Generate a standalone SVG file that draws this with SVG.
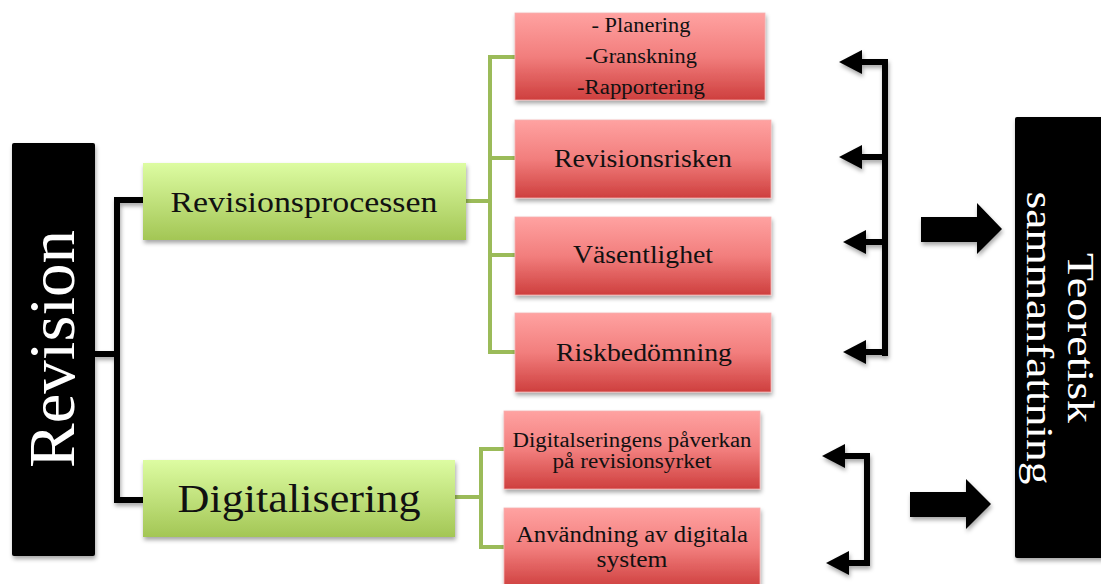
<svg xmlns="http://www.w3.org/2000/svg" width="1101" height="584" viewBox="0 0 1101 584">
<defs>
<linearGradient id="gGreen" x1="0" y1="0" x2="0" y2="1">
<stop offset="0" stop-color="#ddfca2"/>
<stop offset="1" stop-color="#a3c655"/>
</linearGradient>
<linearGradient id="gRed" x1="0" y1="0" x2="0" y2="1">
<stop offset="0" stop-color="#ffa2a1"/>
<stop offset="0.5" stop-color="#f27e7d"/>
<stop offset="1" stop-color="#ce3f3e"/>
</linearGradient>
<filter id="sh" x="-10%" y="-10%" width="120%" height="130%">
<feDropShadow dx="1" dy="3" stdDeviation="2" flood-color="#000" flood-opacity="0.35"/>
</filter>
<filter id="shl" filterUnits="userSpaceOnUse" x="0" y="0" width="1101" height="584">
<feDropShadow dx="1" dy="3" stdDeviation="2" flood-color="#000" flood-opacity="0.35"/>
</filter>
<marker id="ah" markerUnits="userSpaceOnUse" markerWidth="24" markerHeight="24" refX="0" refY="12" orient="auto">
<path d="M23,12 L0,0 L0,24 Z" fill="#000"/>
</marker>
<style>
.serif{font-family:"Liberation Serif","DejaVu Serif",serif;}
.dark{fill:#000;}
.w{fill:#fff;}
.k{fill:#111;}
.green{fill:url(#gGreen);filter:url(#sh);}
.red{fill:url(#gRed);stroke:#f5b0b0;stroke-width:0.8;filter:url(#sh);}
.blk{fill:none;stroke:#000;stroke-width:6;}
.grn{fill:none;stroke:#9bbb59;stroke-width:4;}
.blkarrow{fill:#000;}
</style>
</defs>

<g id="connectors">
<g filter="url(#shl)">
<path class="blk" d="M95,354 H117 M117,200 V500 M114,200 H143 M114,500 H143"/>
</g>
<path class="grn" d="M466,201 H490 M490,55 V354 M488,57 H515 M490,158 H515 M490,255 H515 M488,352 H515"/>
<path class="grn" d="M455,497 H481 M481,447 V549 M479,449 H504 M479,547 H504"/>
<g id="bracket-upper" filter="url(#shl)">
<path class="blk" d="M885,59 V356"/>
<path class="blk" d="M888,62 H862" marker-end="url(#ah)"/>
<path class="blk" d="M885,157 H862" marker-end="url(#ah)"/>
<path class="blk" d="M885,242 H866" marker-end="url(#ah)"/>
<path class="blk" d="M888,352 H866" marker-end="url(#ah)"/>
</g>
<g id="bracket-lower" filter="url(#shl)">
<path class="blk" d="M867,453 V566"/>
<path class="blk" d="M870,456 H845" marker-end="url(#ah)"/>
<path class="blk" d="M870,563 H849" marker-end="url(#ah)"/>
</g>
<g filter="url(#shl)">
<path id="bigarrow-upper" class="blkarrow" d="M921,217 H977 V203 L1002,229 L977,254 V242 H921 Z"/>
<path id="bigarrow-lower" class="blkarrow" d="M910,492 H966 V479 L991,504 L966,529 V517 H910 Z"/>
</g>
</g>

<g id="node-revision">
<rect x="12" y="143" width="83" height="413" rx="2" class="dark" filter="url(#sh)"/>
<text class="serif w" transform="translate(74,349) rotate(-90)" text-anchor="middle" font-size="66" textLength="238" lengthAdjust="spacingAndGlyphs">Revision</text>
</g>

<g id="node-revisionsprocessen">
<rect x="143" y="163" width="323" height="77" class="green"/>
<text class="serif k" x="304" y="212" text-anchor="middle" font-size="30" textLength="267" lengthAdjust="spacingAndGlyphs">Revisionsprocessen</text>
</g>

<g id="node-digitalisering">
<rect x="143" y="460" width="312" height="77" class="green"/>
<text class="serif k" x="299" y="512" text-anchor="middle" font-size="39" textLength="243" lengthAdjust="spacingAndGlyphs">Digitalisering</text>
</g>

<g id="node-planering">
<rect x="515" y="13" width="250" height="87" class="red"/>
<text class="serif k" x="641" y="32" text-anchor="middle" font-size="20" textLength="99" lengthAdjust="spacingAndGlyphs">- Planering</text>
<text class="serif k" x="641" y="63" text-anchor="middle" font-size="20" textLength="112" lengthAdjust="spacingAndGlyphs">-Granskning</text>
<text class="serif k" x="641" y="94" text-anchor="middle" font-size="20" textLength="128" lengthAdjust="spacingAndGlyphs">-Rapportering</text>
</g>

<g id="node-revisionsrisken">
<rect x="515" y="120" width="256" height="78" class="red"/>
<text class="serif k" x="643" y="167" text-anchor="middle" font-size="26" textLength="178" lengthAdjust="spacingAndGlyphs">Revisionsrisken</text>
</g>

<g id="node-vasentlighet">
<rect x="515" y="217" width="256" height="78" class="red"/>
<text class="serif k" x="643" y="263" text-anchor="middle" font-size="26" textLength="140" lengthAdjust="spacingAndGlyphs">Väsentlighet</text>
</g>

<g id="node-riskbedomning">
<rect x="515" y="313" width="256" height="79" class="red"/>
<text class="serif k" x="644" y="361" text-anchor="middle" font-size="26" textLength="176" lengthAdjust="spacingAndGlyphs">Riskbedömning</text>
</g>

<g id="node-digitalseringens">
<rect x="504" y="411" width="256" height="78" class="red"/>
<text class="serif k" x="632" y="447" text-anchor="middle" font-size="20" textLength="239" lengthAdjust="spacingAndGlyphs">Digitalseringens påverkan</text>
<text class="serif k" x="632" y="468" text-anchor="middle" font-size="20" textLength="159" lengthAdjust="spacingAndGlyphs">på revisionsyrket</text>
</g>

<g id="node-anvandning">
<rect x="504" y="508" width="256" height="80" class="red"/>
<text class="serif k" x="632" y="542" text-anchor="middle" font-size="23" textLength="232" lengthAdjust="spacingAndGlyphs">Användning av digitala</text>
<text class="serif k" x="632" y="567" text-anchor="middle" font-size="23" textLength="71" lengthAdjust="spacingAndGlyphs">system</text>
</g>

<g id="node-teoretisk">
<rect x="1015" y="117" width="90" height="441" rx="2" class="dark" filter="url(#sh)"/>
<text class="serif w" transform="translate(1068,338) rotate(90)" text-anchor="middle" font-size="38" textLength="170" lengthAdjust="spacingAndGlyphs">Teoretisk</text>
<text class="serif w" transform="translate(1027,338) rotate(90)" text-anchor="middle" font-size="38" textLength="293" lengthAdjust="spacingAndGlyphs">sammanfattning</text>
</g>
</svg>
